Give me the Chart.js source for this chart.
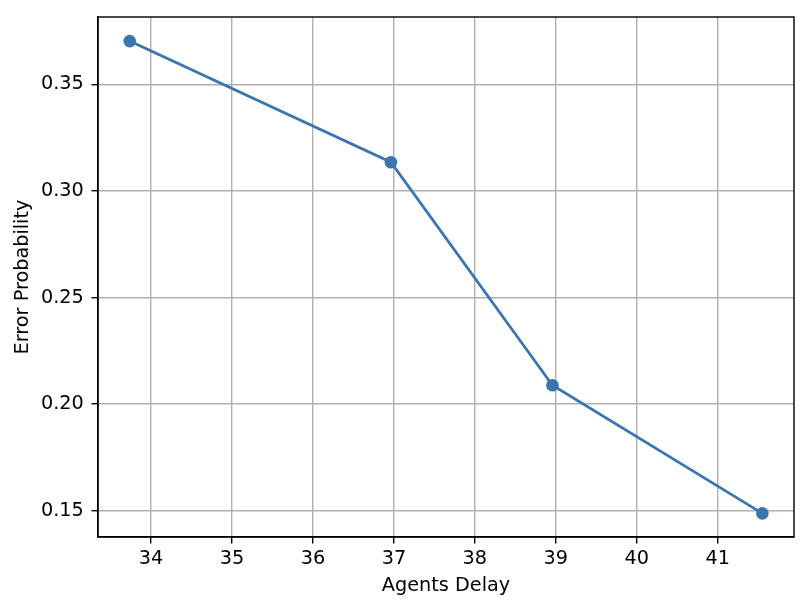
<!DOCTYPE html>
<html>
<head>
<meta charset="utf-8">
<script src="https://cdn.jsdelivr.net/npm/chart.js@4/dist/chart.umd.min.js"></script>
<style>
html,body{margin:0;padding:0;background:#fff;}
#wrap{width:808px;height:603px;}
</style>
</head>
<body>
<div id="wrap"><canvas id="c" width="808" height="603"></canvas></div>
<script>
const agentsDelay = [33.736, 36.963, 38.958, 41.551];
const errorProb = [0.3703, 0.3135, 0.2089, 0.1488];
const xTicks = [34, 35, 36, 37, 38, 39, 40, 41];
const yTicks = [0.15, 0.20, 0.25, 0.30, 0.35];
const xLabel = 'Agents Delay';
const yLabel = 'Error Probability';

const lineColor = '#3a75b0';
const fontFamily = '"DejaVu Sans", sans-serif';
const tickFs = 19.25;
const titleFs = 19.25;

const framePlugin = {
  id: 'frame',
  afterDraw(chart) {
    const {ctx, chartArea: a} = chart;
    ctx.save();
    ctx.strokeStyle = '#000';
    ctx.lineWidth = 1.4;
    ctx.strokeRect(a.left, a.top, a.right - a.left, a.bottom - a.top);
    ctx.restore();
  }
};

new Chart(document.getElementById('c'), {
  type: 'scatter',
  data: {
    datasets: [{
      data: agentsDelay.map((x, i) => ({x: x, y: errorProb[i]})),
      showLine: true,
      borderColor: lineColor,
      backgroundColor: lineColor,
      borderWidth: 2.75,
      pointRadius: 6.3,
      pointHoverRadius: 6.3,
      pointBorderWidth: 0,
      pointBackgroundColor: lineColor,
      tension: 0
    }]
  },
  options: {
    responsive: false,
    animation: false,
    devicePixelRatio: 1,
    layout: {padding: {left: 0, right: 14, top: 17, bottom: 0}},
    plugins: {legend: {display: false}, tooltip: {enabled: false}},
    scales: {
      x: {
        type: 'linear',
        min: 33.345,
        max: 41.942,
        afterBuildTicks: s => { s.ticks = xTicks.map(v => ({value: v})); },
        afterFit: s => { s.height = 66; s.paddingLeft = 0; s.paddingRight = 0; },
        grid: {color: '#b0b0b0', lineWidth: 1.4, tickLength: 6.5, tickColor: '#000', tickWidth: 1.4},
        border: {display: true, color: '#000', width: 1.4},
        ticks: {color: '#000', padding: 4, font: {family: fontFamily, size: tickFs}, maxRotation: 0,
          callback: v => String(v)},
        title: {display: true, text: xLabel, color: '#000', font: {family: fontFamily, size: titleFs}, padding: {top: 0, bottom: 5}}
      },
      y: {
        type: 'linear',
        min: 0.1377,
        max: 0.3816,
        afterBuildTicks: s => { s.ticks = yTicks.map(v => ({value: v})); },
        afterFit: s => { s.width = 98; s.paddingTop = 0; s.paddingBottom = 0; },
        grid: {color: '#b0b0b0', lineWidth: 1.4, tickLength: 6.5, tickColor: '#000', tickWidth: 1.4},
        border: {display: true, color: '#000', width: 1.4},
        ticks: {color: '#000', padding: 7.7, font: {family: fontFamily, size: tickFs},
          callback: v => Number(v).toFixed(2)},
        title: {display: true, text: yLabel, color: '#000', font: {family: fontFamily, size: titleFs}, padding: {top: 11, bottom: 0}}
      }
    }
  },
  plugins: [framePlugin]
});
</script>
</body>
</html>
